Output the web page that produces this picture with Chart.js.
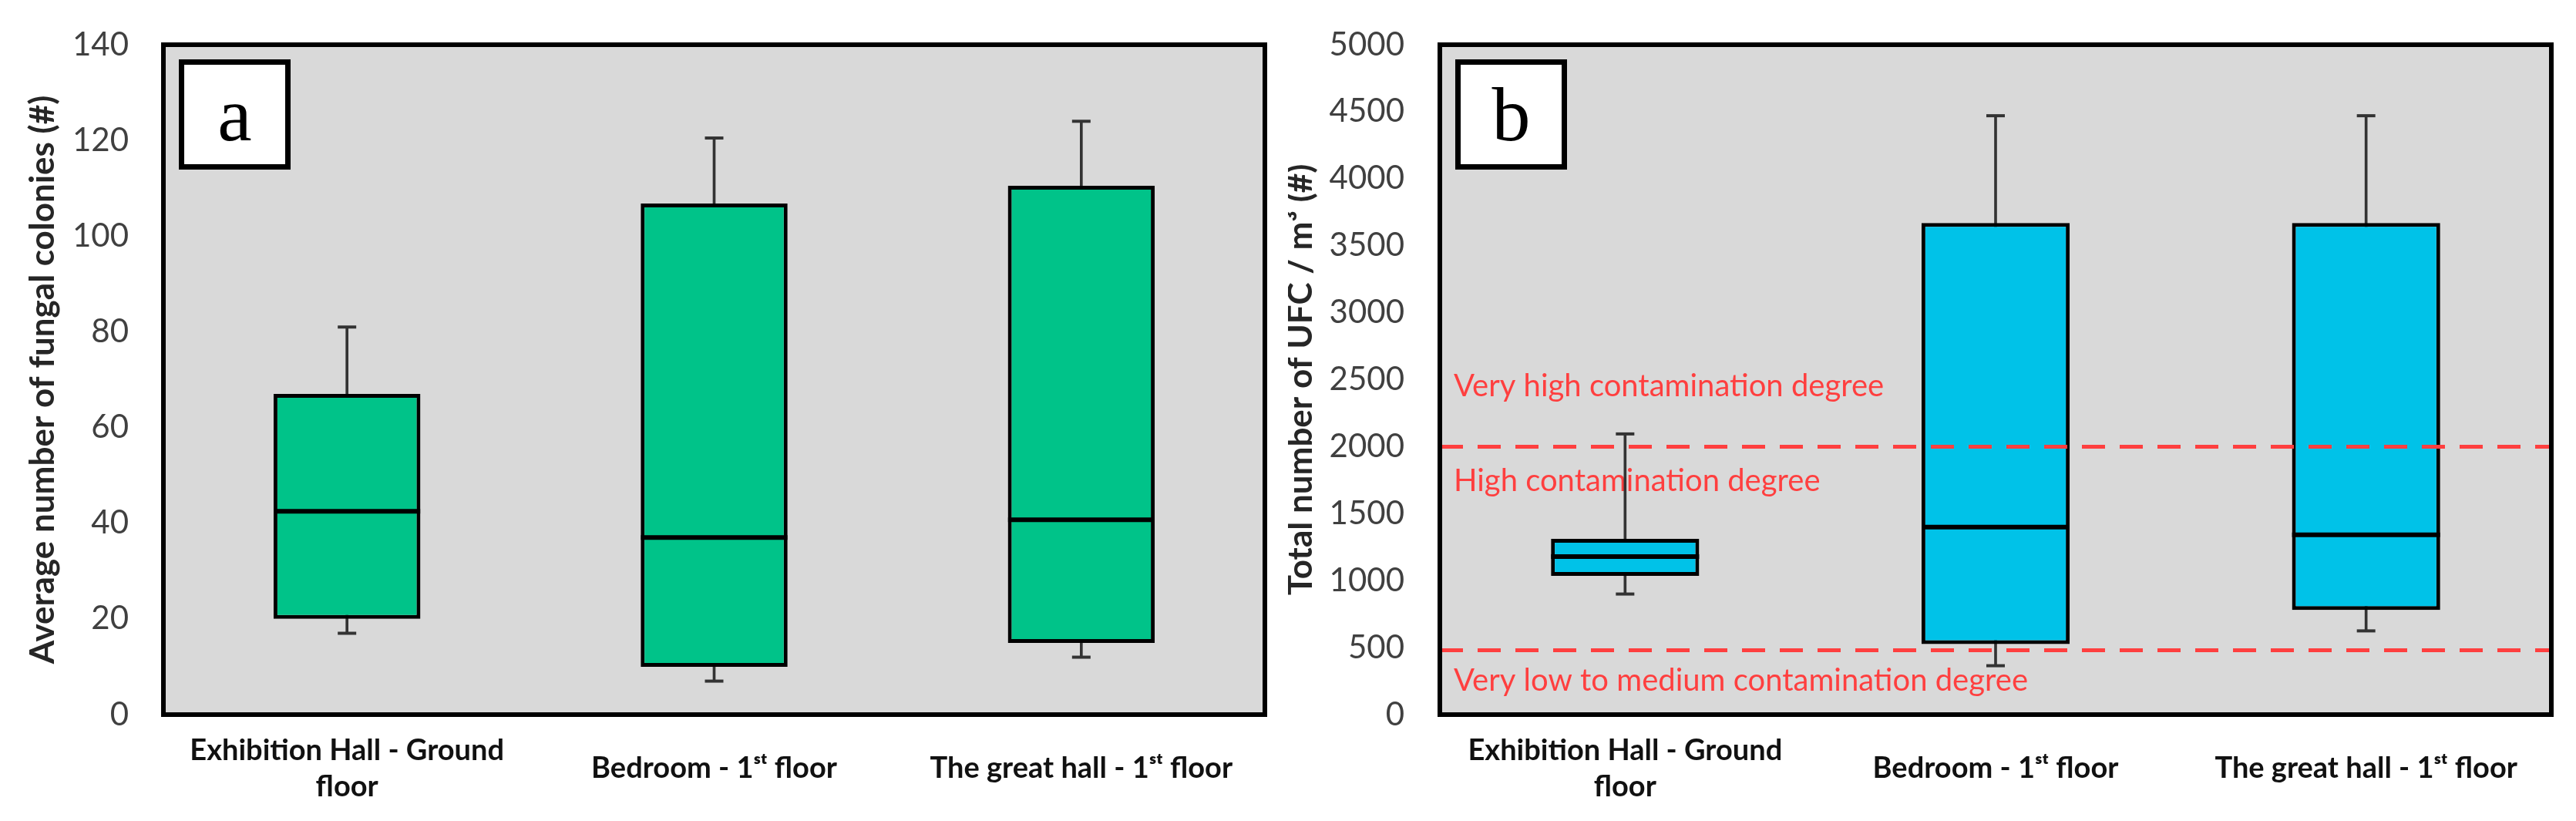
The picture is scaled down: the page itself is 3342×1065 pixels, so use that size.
<!DOCTYPE html>
<html><head><meta charset="utf-8">
<script src="https://cdn.jsdelivr.net/npm/chart.js@4.4.1/dist/chart.umd.min.js"></script>
<style>
html,body{margin:0;padding:0;background:#fff;width:3342px;height:1065px;overflow:hidden}
.wrap{position:absolute;top:0;width:1671px;height:1065px}
</style></head><body>
<div class="wrap" style="left:0"><canvas id="ca"></canvas></div>
<div class="wrap" style="left:1671px"><canvas id="cb"></canvas></div>
<script>
// ---- data ----
const categories = [['Exhibition Hall - Ground', 'floor'], 'Bedroom - 1ˢᵗ floor', 'The great hall - 1ˢᵗ floor'];

// panel a : average number of fungal colonies
const aMin    = [17, 7, 12];
const aQ1     = [20, 10, 15];
const aMedian = [42.5, 37, 40.7];
const aQ3     = [67, 106.8, 110.5];
const aMax    = [81, 120.5, 124];
const aTicks  = [0, 20, 40, 60, 80, 100, 120, 140];

// panel b : total number of UFC / m3
const bMin    = [900, 365, 625];
const bQ1     = [1035, 526, 781];
const bMedian = [1180, 1400, 1342];
const bQ3     = [1312, 3670, 3670];
const bMax    = [2095, 4470, 4470];
const bTicks  = [0, 500, 1000, 1500, 2000, 2500, 3000, 3500, 4000, 4500, 5000];
const bThresholds = [2000, 480];
const bZoneLabels = ['Very high contamination degree', 'High contamination degree', 'Very low to medium contamination degree'];
const bZoneLabelValues = [2450, 1742, 250];

// ---- drawing ----
Chart.defaults.font.family = 'Lato, "Open Sans", sans-serif';

const deco = {
  id: 'deco',
  beforeDraw(chart, args, o) {
    const {ctx, chartArea: a} = chart;
    ctx.save();
    ctx.fillStyle = '#D9D9D9';
    ctx.fillRect(a.left, a.top, a.width, a.height);
    ctx.restore();
  },
  beforeDatasetsDraw(chart, args, o) {
    if (!o.zoneLabels) return;
    const {ctx, chartArea: a, scales: {y}} = chart;
    ctx.save();
    ctx.fillStyle = '#FF3F3F';
    ctx.font = '40px Lato, sans-serif';
    ctx.textBaseline = 'middle';
    ctx.textAlign = 'left';
    o.zoneLabels.forEach((t, i) => ctx.fillText(t, a.left + 18, y.getPixelForValue(o.zoneValues[i])));
    ctx.restore();
  },
  afterDatasetsDraw(chart, args, o) {
    const {ctx, chartArea: a, scales: {y}} = chart;
    ctx.save();
    if (o.thresholds) {
      ctx.strokeStyle = '#FF3F3F';
      ctx.lineWidth = 5;
      ctx.setLineDash([30, 19]);
      o.thresholds.forEach(v => {
        const py = y.getPixelForValue(v);
        ctx.beginPath(); ctx.moveTo(a.left, py); ctx.lineTo(a.right, py); ctx.stroke();
      });
      ctx.setLineDash([]);
    }
    ctx.strokeStyle = '#000';
    ctx.lineWidth = 6;
    ctx.strokeRect(a.left, a.top, a.width, a.height);
    const bx = a.left + 20, by = a.top + 19, bw = 145, bh = 143;
    ctx.fillStyle = '#fff';
    ctx.fillRect(bx, by, bw, bh);
    ctx.lineWidth = 7;
    ctx.strokeRect(bx + 3.5, by + 3.5, bw - 7, bh - 7);
    ctx.fillStyle = '#000';
    ctx.font = '100px "Liberation Serif", serif';
    ctx.textAlign = 'center';
    ctx.textBaseline = 'alphabetic';
    ctx.fillText(o.letter, bx + bw / 2, by + 105);
    ctx.restore();
  }
};

function noPad(s) { s.paddingTop = 0; s.paddingBottom = 0; s.paddingLeft = 0; s.paddingRight = 0; }

function makeChart(id, d) {
  return new Chart(document.getElementById(id), {
    type: 'bar',
    data: {
      labels: categories,
      datasets: [
        { type: 'bar', data: d.min.map((v, i) => [v, d.max[i]]), backgroundColor: '#333',
          barThickness: 3, grouped: false, order: 3, borderWidth: 0 },
        { type: 'bar', data: d.q1.map((v, i) => [v, d.q3[i]]), backgroundColor: d.color,
          borderColor: '#000', borderWidth: 5, borderSkipped: false,
          barPercentage: 0.4, categoryPercentage: 1, grouped: false, order: 2 },
        { type: 'line', data: d.median, showLine: false, pointStyle: 'line', pointRadius: d.medR,
          pointHoverRadius: d.medR, pointBorderWidth: 6, pointBorderColor: '#000', borderColor: '#000', order: 1 },
        { type: 'line', data: d.max, showLine: false, pointStyle: 'line', pointRadius: 12,
          pointHoverRadius: 12, pointBorderWidth: 4, pointBorderColor: '#333', borderColor: '#333', order: 1 },
        { type: 'line', data: d.min, showLine: false, pointStyle: 'line', pointRadius: 12,
          pointHoverRadius: 12, pointBorderWidth: 4, pointBorderColor: '#333', borderColor: '#333', order: 1 }
      ]
    },
    options: {
      responsive: true, maintainAspectRatio: false, devicePixelRatio: 1,
      animation: false, events: [],
      layout: { autoPadding: false, padding: { top: 58, right: d.padRight, bottom: 0, left: 0 } },
      plugins: { legend: { display: false }, tooltip: { enabled: false },
        deco: { letter: d.letter, thresholds: d.thresholds, zoneLabels: d.zoneLabels, zoneValues: d.zoneValues } },
      scales: {
        x: {
          grid: { display: false, drawTicks: false }, border: { display: false },
          ticks: { color: '#111', font: { size: 38, weight: 'bold', lineHeight: 1.22 },
            padding: 47, crossAlign: 'center', maxRotation: 0, autoSkip: false },
          afterFit(s) { s.height = 138; noPad(s); }
        },
        y: {
          min: 0, max: d.ticks[d.ticks.length - 1],
          grid: { display: false, drawTicks: false }, border: { display: false },
          afterBuildTicks(s) { s.ticks = d.ticks.map(v => ({ value: v })); },
          ticks: { color: '#404040', font: { size: 42 }, padding: d.tickPad, callback: v => String(v) },
          title: { display: true, text: d.title, color: '#262626',
            font: { size: 44, weight: 'bold', lineHeight: 0.7 }, padding: { top: d.titlePad, bottom: 0 } },
          afterFit(s) { s.width = d.yWidth; noPad(s); }
        }
      }
    },
    plugins: [deco]
  });
}

makeChart('ca', { min: aMin, q1: aQ1, median: aMedian, q3: aQ3, max: aMax, ticks: aTicks,
  color: '#00C389', medR: 95, letter: 'a', padRight: 30, yWidth: 212, tickPad: 45, titlePad: 40,
  title: 'Average number of fungal colonies (#)' });
makeChart('cb', { min: bMin, q1: bQ1, median: bMedian, q3: bQ3, max: bMax, ticks: bTicks,
  color: '#00C2E8', medR: 96, letter: 'b', padRight: 32, yWidth: 197, tickPad: 46, titlePad: 1,
  thresholds: bThresholds, zoneLabels: bZoneLabels, zoneValues: bZoneLabelValues,
  title: 'Total number of UFC / m³ (#)' });
</script>
</body></html>
